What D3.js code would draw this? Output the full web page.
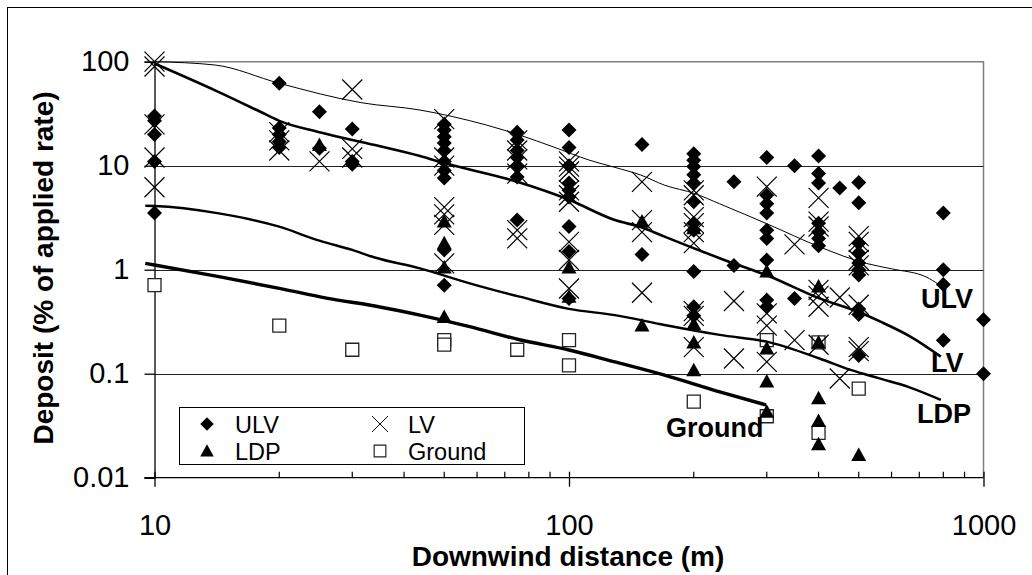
<!DOCTYPE html>
<html>
<head>
<meta charset="utf-8">
<script src="https://cdn.jsdelivr.net/npm/d3@7"></script>
<style>
  body { margin: 0; background: #fff; }
  svg { display: block; font-family: "Liberation Sans", Arial, sans-serif; }
</style>
</head>
<body>
<div id="chart"></div>
<script>
// measured points: [distance (m), deposit (% of applied rate)]
var ulv_pts = [[10,30],[10,27],[10,20],[10,11],[10,3.5],
  [20,62],[20,23],[20,20],[20,17],[20,15],
  [25,33],[25,14.7],
  [30,22.5],[30,11],[30,10.3],
  [50,25],[50,22],[50,19],[50,16.5],[50,14],[50,11],[50,9],[50,7.6],[50,1.55],[50,0.71],
  [75,21],[75,17.7],[75,14],[75,12],[75,10],[75,7.8],[75,3.0],
  [100,22],[100,15],[100,10],[100,6.8],[100,5.8],[100,5.0],[100,2.6],[100,1.5],[100,0.53],
  [150,16],[150,1.4],
  [200,13],[200,11.3],[200,9.8],[200,8.2],[200,6.8],[200,4.5],[200,2.8],[200,2.4],[200,0.96],[200,0.44],[200,0.36],
  [250,7.0],[250,1.1],
  [300,12],[300,5.2],[300,4.3],[300,3.5],[300,2.4],[300,2.0],[300,1.24],[300,0.51],[300,0.44],
  [350,10],[350,0.53],
  [400,12.4],[400,8.4],[400,6.8],[400,2.8],[400,2.3],[400,2.0],[400,1.7],
  [450,6.1],
  [500,6.9],[500,4.4],[500,1.8],[500,1.45],[500,1.16],[500,1.0],[500,0.89],[500,0.42],[500,0.37],[500,0.15],
  [800,3.5],[800,1.0],[800,0.72],[800,0.21],
  [1000,0.33],[1000,0.1]];

var lv_pts = [[10,100],[10,90],[10,25],[10,12],[10,6.2],
  [20,21],[20,17.5],[20,14],
  [25,11],
  [30,54],[30,14.5],[30,12],
  [50,28],[50,12],[50,10],[50,4],[50,3.4],[50,2.7],[50,1.15],
  [75,17.5],[75,14],[75,11.5],[75,8.4],[75,2.4],[75,2.0],
  [100,11],[100,9.8],[100,8.8],[100,5.8],[100,5.2],[100,4.5],[100,1.85],[100,1.24],[100,0.66],
  [150,7],[150,3.0],[150,2.3],[150,0.6],
  [200,5.8],[200,5.2],[200,3.2],[200,2.8],[200,2.3],[200,1.8],[200,0.4],[200,0.36],[200,0.18],
  [250,0.5],[250,0.14],
  [300,6.3],[300,0.38],[300,0.29],[300,0.13],
  [350,1.75],[350,0.21],
  [400,4.9],[400,2.9],[400,2.6],[400,0.64],[400,0.56],[400,0.44],[400,0.19],
  [450,0.54],[450,0.09],
  [500,2.1],[500,1.85],[500,1.24],[500,1.1],[500,0.46],[500,0.18],[500,0.165]];

var ldp_pts = [[25,15.8],
  [50,2.9],[50,1.8],[50,1.05],[50,0.35],
  [100,1.05],[100,0.55],
  [150,2.9],[150,0.29],
  [200,2.5],[200,0.3],[200,0.2],[200,0.108],
  [300,0.96],[300,0.175],[300,0.084],[300,0.043],
  [400,0.69],[400,0.2],[400,0.058],[400,0.035],[400,0.021],
  [500,0.0165]];

var ground_pts = [[10,0.71],[20,0.29],[30,0.17],[50,0.21],[50,0.19],[75,0.17],
  [100,0.21],[100,0.12],[200,0.054],[300,0.21],[300,0.039],[400,0.2],[400,0.027],[500,0.072]];

// fitted curves
var ulv_curve = [[10,100],[14,92.9],[20,62],[31.6,40.3],[43.7,34.3],[52.5,29.6],[63.2,24.6],[76,19.7],
  [91.5,15.2],[112,11.3],[129,9.64],[149,8.13],[170,6.5],[201,5.4],[231,4.3],[305,2.69],[402,1.66],
  [521,1.15],[600,1.02],[728,0.85],[780,0.72]];
var lv_curve = [[10,96],[14,53],[18,33],[20,27],[25,21],[34,15.8],[43.7,12.4],[50,10.6],[75,7.0],
  [100,4.7],[129,3.0],[150,2.55],[170,2.08],[231,1.29],[305,0.86],[402,0.53],[502,0.39],[561,0.32],
  [663,0.23],[789,0.146]];
var ldp_curve = [[9.5,4.12],[10,4.1],[14.3,3.48],[20,2.59],[25,1.9],[30,1.55],[34,1.31],[43.7,1.03],
  [57.6,0.74],[76,0.55],[100,0.42],[129,0.366],[170,0.294],[231,0.236],[305,0.2],[402,0.14],
  [480,0.108],[561,0.09],[663,0.074],[789,0.056]];
var ground_curve = [[9.5,1.15],[10,1.11],[14.3,0.857],[20,0.662],[26.2,0.53],[34,0.448],[43.7,0.366],
  [57.6,0.283],[76,0.212],[100,0.169],[129,0.13],[170,0.097],[231,0.067],[299,0.05]];

var y_ticks = [0.01, 0.1, 1, 10, 100];
var y_tick_labels = ['0.01', '0.1', '1', '10', '100'];
var x_major = [10, 100, 1000];
var x_minor = [20,30,40,50,60,70,80,90,200,300,400,500,600,700,800,900];

var W = 1032, H = 575;
var svg = d3.select('#chart').append('svg')
    .attr('width', W)
    .attr('height', H);

// outer chart frame (runs off the picture at right and bottom)
svg.append('rect')
    .attr('x', 7.5).attr('y', 7.5)
    .attr('width', 1100).attr('height', 700)
    .attr('fill', 'white')
    .attr('stroke', 'black')
    .attr('stroke-width', 1);

var x = d3.scaleLog().domain([10, 1000]).range([154.5, 983.5]);
var y = d3.scaleLog().domain([0.01, 100]).range([477.7, 61.7]);

// plot area border (grey) top and right
svg.append('path')
    .attr('d', `M${x(10)},${y(100)}H${x(1000)}V${y(0.01)}`)
    .attr('fill', 'none')
    .attr('stroke', '#808080')
    .attr('stroke-width', 1.5);

// horizontal gridlines
svg.selectAll('.grid')
    .data([0.1, 1, 10])
    .enter()
    .append('line')
    .attr('x1', x(10)).attr('x2', x(1000))
    .attr('y1', d => Math.round(y(d)) + 0.5).attr('y2', d => Math.round(y(d)) + 0.5)
    .attr('stroke', '#222')
    .attr('stroke-width', 1);

// y axis
var yAxis = svg.append('g')
    .attr('transform', `translate(${x(10)},0)`)
    .call(d3.axisLeft(y).tickValues(y_ticks).tickSize(10).tickPadding(15)
        .tickFormat((d, i) => y_tick_labels[i]));
yAxis.select('.domain').attr('stroke', 'black').attr('stroke-width', 1.3);
yAxis.selectAll('.tick line').attr('stroke', 'black').attr('stroke-width', 1.3);
yAxis.selectAll('.tick text')
    .attr('font-size', 29)
    .attr('font-family', '"Liberation Sans", Arial, sans-serif')
    .attr('fill', 'black');

// x axis
var xAxis = svg.append('g')
    .attr('transform', `translate(0,${y(0.01)})`)
    .call(d3.axisBottom(x).tickValues(x_major).tickSize(9).tickPadding(28)
        .tickFormat(d3.format('d')));
xAxis.select('.domain').attr('stroke', 'black').attr('stroke-width', 1.3)
    .attr('d', `M${x(10) - 10},0H${x(1000)}`);
xAxis.selectAll('.tick line').attr('stroke', 'black').attr('stroke-width', 1.3).attr('y1', -6);
xAxis.selectAll('.tick text')
    .attr('font-size', 29)
    .attr('font-family', '"Liberation Sans", Arial, sans-serif')
    .attr('fill', 'black');

svg.selectAll('.minor')
    .data(x_minor)
    .enter()
    .append('line')
    .attr('x1', d => x(d)).attr('x2', d => x(d))
    .attr('y1', y(0.01) - 6).attr('y2', y(0.01))
    .attr('stroke', 'black')
    .attr('stroke-width', 1.2);

// axis titles
svg.append('text')
    .attr('x', 568).attr('y', 566)
    .attr('text-anchor', 'middle')
    .attr('font-size', 28).attr('font-weight', 'bold')
    .text('Downwind distance (m)');

svg.append('text')
    .attr('transform', 'translate(53,268) rotate(-90)')
    .attr('text-anchor', 'middle')
    .attr('font-size', 28).attr('font-weight', 'bold')
    .text('Deposit (% of applied rate)');

// marker shapes
var diamond = 'M0,-7.5L7.5,0L0,7.5L-7.5,0Z';
var cross = 'M-10,-10L10,10M10,-10L-10,10';
var triangle = 'M0,-7.5L7.5,6L-7.5,6Z';
var square = 'M-6.5,-6.5H6.5V6.5H-6.5Z';

function draw_points(data, shape, fill, stroke, sw) {
    svg.append('g').selectAll('path')
        .data(data)
        .enter()
        .append('path')
        .attr('transform', d => `translate(${x(d[0])},${y(d[1])})`)
        .attr('d', shape)
        .attr('fill', fill)
        .attr('stroke', stroke)
        .attr('stroke-width', sw);
}

draw_points(ground_pts, square, 'white', '#222', 1.3);
draw_points(ulv_pts, diamond, 'black', 'none', 0);
draw_points(lv_pts, cross, 'none', 'black', 1.2);
draw_points(ldp_pts, triangle, 'black', 'none', 0);

// curves
var line = d3.line()
    .x(d => x(d[0]))
    .y(d => y(d[1]))
    .curve(d3.curveMonotoneX);

function draw_curve(data, sw) {
    svg.append('path')
        .datum(data)
        .attr('d', line)
        .attr('fill', 'none')
        .attr('stroke', 'black')
        .attr('stroke-width', sw)
        .attr('stroke-linejoin', 'round');
}
draw_curve(ulv_curve, 1);
draw_curve(lv_curve, 2.6);
draw_curve(ldp_curve, 2.4);
draw_curve(ground_curve, 3.4);

// curve labels
var curve_labels = [['ULV', 921, 308], ['LV', 931, 372], ['LDP', 917, 423], ['Ground', 666, 437]];
svg.selectAll('.clab')
    .data(curve_labels)
    .enter()
    .append('text')
    .attr('x', d => d[1]).attr('y', d => d[2])
    .attr('font-size', 27).attr('font-weight', 'bold')
    .text(d => d[0]);

// legend
var legend = svg.append('g');
legend.append('rect')
    .attr('x', 179.5).attr('y', 407.5)
    .attr('width', 345).attr('height', 57)
    .attr('fill', 'white')
    .attr('stroke', 'black')
    .attr('stroke-width', 1);

var legend_items = [['ULV', diamond, 207, 424, 'black', 'none', 0],
    ['LDP', triangle, 207, 451, 'black', 'none', 0],
    ['LV', cross, 380, 424, 'none', 'black', 1.2],
    ['Ground', square, 380, 451, 'white', '#222', 1.3]];

legend.selectAll('path')
    .data(legend_items)
    .enter()
    .append('path')
    .attr('transform', d => `translate(${d[2]},${d[3]}) scale(${d[0] === 'LV' ? 0.8 : 0.9})`)
    .attr('d', d => d[1])
    .attr('fill', d => d[4])
    .attr('stroke', d => d[5])
    .attr('stroke-width', d => d[6]);

legend.selectAll('text')
    .data(legend_items)
    .enter()
    .append('text')
    .attr('x', d => d[2] + 28)
    .attr('y', d => d[3] + 8.5)
    .attr('font-size', 23.5)
    .text(d => d[0]);
</script>
</body>
</html>
